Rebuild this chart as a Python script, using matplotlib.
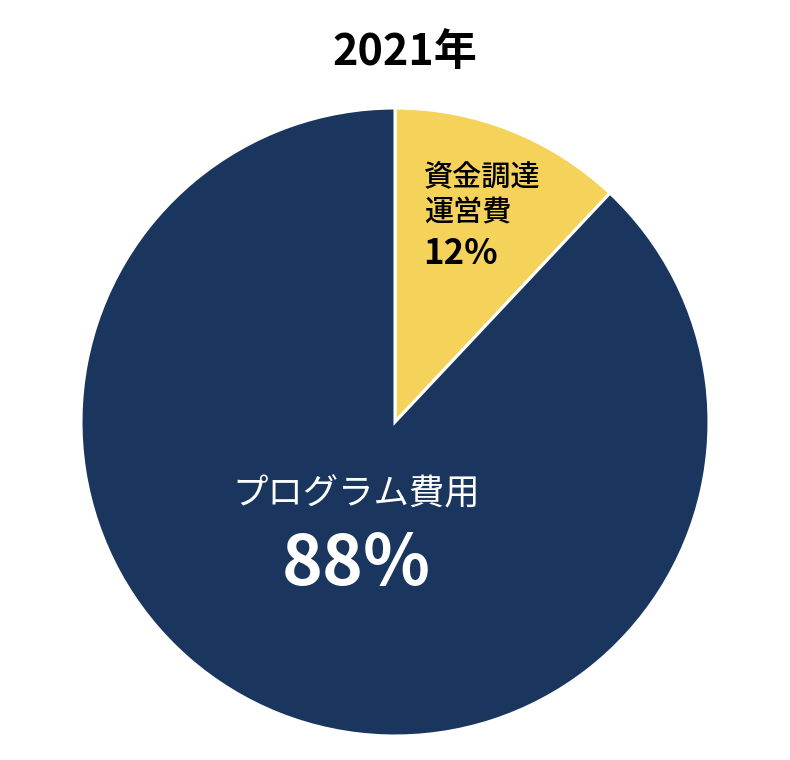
import matplotlib
matplotlib.use("Agg")
import matplotlib.pyplot as plt

plt.rcParams['font.family'] = ['Noto Sans CJK JP', 'DejaVu Sans']

title = "2021年"
categories = ["資金調達\n運営費", "プログラム費用"]
values = [12, 88]
colors = ["#f5d25a", "#1a365e"]

fig = plt.figure(figsize=(7.9, 7.6), dpi=100)
ax = fig.add_axes([0, 0, 1, 1])
ax.pie(values, colors=colors, startangle=90, counterclock=False,
       radius=1.0, center=(0, 0),
       wedgeprops=dict(edgecolor="white", linewidth=2.2))
ax.set_xlim(-395/314, 395/314)
ax.set_ylim((422-760)/314, 422/314)
ax.set_aspect('auto')
ax.axis('off')

def px(x, y):
    return ((x-395)/314, (422-y)/314)

# Title
fig.text(405/790, 1 - 52/760, title, ha='center', va='center',
         fontsize=31, fontweight='bold', color='black')

# Small slice labels
ax.text(*px(424, 195), categories[0], ha='left', va='center',
        fontsize=21, fontweight='medium', color='black', linespacing=1.2)
ax.text(*px(423, 253), f"{values[0]}%", ha='left', va='center',
        fontsize=25, fontweight='bold', color='black')

# Large slice labels
ax.text(*px(356, 495), categories[1], ha='center', va='center',
        fontsize=25.5, color='white')
ax.text(*px(356, 565), f"{values[1]}%", ha='center', va='center',
        fontsize=50, fontweight='bold', color='white')

fig.savefig("out.png", dpi=100)
